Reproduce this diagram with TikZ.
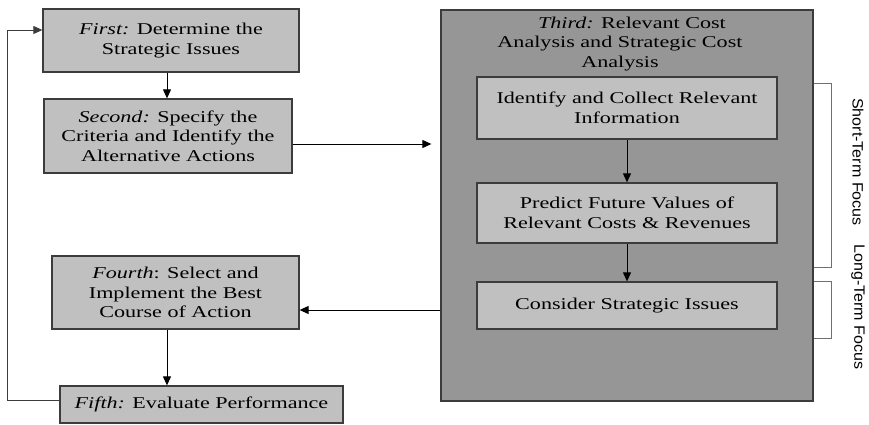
\documentclass[tikz,border=0pt]{standalone}
\usepackage{fontspec}
\setmainfont{Liberation Serif}[FakeStretch=1.34]
\newfontfamily\focusfont{Liberation Sans}[FakeStretch=1.07]
\usetikzlibrary{arrows.meta}
\definecolor{boxgray}{HTML}{C0C0C0}
\definecolor{bandgray}{HTML}{969696}
\definecolor{edgegray}{HTML}{3C3C3C}
\definecolor{bracegray}{HTML}{707070}

\begin{document}
\begin{tikzpicture}[x=1pt,y=-1pt,
  stepbox/.style={draw=edgegray, fill=boxgray, line width=1.3pt, inner sep=0pt,
    align=center, font=\fontsize{16.5}{19.5}\selectfont},
  bigbox/.style={draw=edgegray, fill=bandgray, line width=1.3pt, inner sep=0pt},
  plain/.style={inner sep=0pt, align=center, font=\fontsize{16.5}{19.5}\selectfont},
  flow/.style={-{Triangle[length=9pt,width=8pt]}, line width=1pt},
  bracket/.style={draw=bracegray, line width=0.9pt},
  focus/.style={rotate=-90, inner sep=0pt, font=\focusfont\fontsize{15}{17}\selectfont}]
\useasboundingbox (0,0) rectangle (869,425);

% left column of steps
\node[stepbox, minimum width=256pt, minimum height=63pt] (first) at (171,40.5)
  {\textit{First:} Determine the\\Strategic Issues};
\node[stepbox, minimum width=248pt, minimum height=74pt] (second) at (168,136)
  {\textit{Second:} Specify the\\Criteria and Identify the\\Alternative Actions};
\node[stepbox, minimum width=247pt, minimum height=73pt] (fourth) at (175.5,292.5)
  {\textit{Fourth}: Select and\\Implement the Best\\Course of Action};
\node[stepbox, minimum width=283pt, minimum height=37pt] (fifth) at (201.5,404.5)
  {\textit{Fifth:} Evaluate Performance};

% third step: large panel with its sub-steps
\node[bigbox, minimum width=372pt, minimum height=391pt] (third) at (627,205.5) {};
\node[plain] (thirdtitle) at (620,44)
  {\hspace*{24pt}\textit{Third:} Relevant Cost\\Analysis and Strategic Cost\\Analysis};
\node[stepbox, minimum width=300pt, minimum height=62pt] (collect) at (627,108)
  {Identify and Collect Relevant\\Information};
\node[stepbox, minimum width=300pt, minimum height=60pt] (predict) at (627,213)
  {Predict Future Values of\\Relevant Costs \& Revenues};
\node[stepbox, minimum width=300pt, minimum height=47pt] (consider) at (627,305.5)
  {Consider Strategic Issues};

% flow arrows
\draw[flow] (first.south -| 167,0) -- (second.north -| 167,0);
\draw[flow, shorten >=9pt] (second.east |- 0,144) -- (third.west |- 0,144);
\draw[flow] (third.west |- 0,310) -- (fourth.east |- 0,310);
\draw[flow] (fourth.south -| 167,0) -- (fifth.north -| 167,0);
\coordinate (loopbottom) at (7,400);
\coordinate (looptop) at (7,30);
\draw[flow, line width=0.9pt, draw=edgegray] (fifth.west |- loopbottom) -- (loopbottom) -- (looptop) -- (first.west |- looptop);
\draw[flow] (collect.south) -- (predict.north);
\draw[flow] (predict.south) -- (consider.north);

% focus brackets
\coordinate (shorttop) at (831,83);
\coordinate (shortbot) at (831,267);
\coordinate (longtop) at (831,281);
\coordinate (longbot) at (831,338);
\draw[bracket] (third.east |- shorttop) -- (shorttop) -- (shortbot) -- (third.east |- shortbot);
\draw[bracket] (third.east |- longtop) -- (longtop) -- (longbot) -- (third.east |- longbot);
\node[focus] (shortlabel) at (858,162) {Short-Term Focus};
\node[focus] (longlabel) at (858,307) {Long-Term Focus};
\end{tikzpicture}
\end{document}
